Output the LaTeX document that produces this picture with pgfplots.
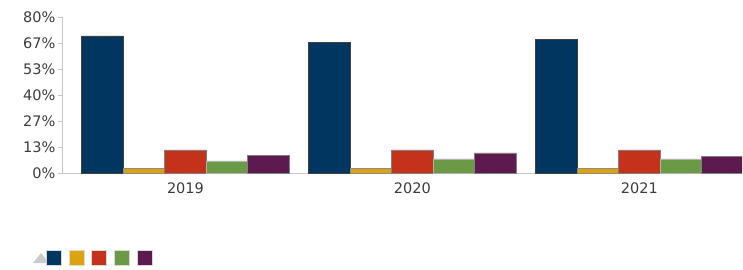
\documentclass[border=0pt]{standalone}
\usepackage{fontspec}
\setmainfont{DejaVu Sans}
\usepackage{pgfplots}
\pgfplotsset{compat=1.18}
\definecolor{cblue}{HTML}{00365F}
\definecolor{cyellow}{HTML}{DDA30F}
\definecolor{cred}{HTML}{C5321C}
\definecolor{cgreen}{HTML}{6A9A45}
\definecolor{cpurple}{HTML}{5C1A4E}
\definecolor{txt}{HTML}{3C3C3C}
\begin{document}
\begin{tikzpicture}
\useasboundingbox (0,0) rectangle (743pt,269pt);
\fill[black!20] (33pt,6pt) -- (41pt,16pt) -- (49pt,6pt) -- cycle;
\begin{axis}[
  at={(62pt,96pt)}, anchor=south west,
  scale only axis, width=680pt, height=156pt,
  xmin=-0.544, xmax=2.452, ymin=0, ymax=80,
  ybar=0pt, bar width=41.5pt,
  axis x line*=bottom, axis y line*=left,
  axis line style={draw=black!22, line width=0.8pt},
  xtick={0,1,2}, xticklabels={2019,2020,2021},
  ytick={0,13.3333,26.6667,40,53.3333,66.6667,80},
  yticklabels={0\%,13\%,27\%,40\%,53\%,67\%,80\%},
  xtick style={draw=none},
  ytick style={draw=black!22, line width=0.8pt},
  tick align=outside, major tick length=4pt,
  ticklabel style={font=\fontsize{14.5}{16}\selectfont, text=txt},
  yticklabel style={xshift=1pt},
  xticklabel style={yshift=-2pt},
  legend columns=-1,
  legend style={at={(-0.0279,-0.545)}, anchor=west, draw=none, fill=none,
    nodes={inner sep=0pt},
    /tikz/every even column/.append style={column sep=6pt}},
  legend image code/.code={\draw[#1, draw=black!15, line width=0.6pt] (0pt,-7.5pt) rectangle (15pt,7.5pt);},
]
\addplot[fill=cblue, draw=black!75, line width=0.7pt] coordinates {(0,70.3) (1,67.1) (2,68.6)};
\addlegendentry{}
\addplot[fill=cyellow, draw=black!45, line width=0.5pt] coordinates {(0,2.3) (1,2.4) (2,2.4)};
\addlegendentry{}
\addplot[fill=cred, draw=black!50, line width=0.5pt] coordinates {(0,11.8) (1,11.8) (2,11.8)};
\addlegendentry{}
\addplot[fill=cgreen, draw=black!30, line width=0.5pt] coordinates {(0,6.2) (1,7.2) (2,7.2)};
\addlegendentry{}
\addplot[fill=cpurple, draw=black!50, line width=0.5pt] coordinates {(0,8.9) (1,10.3) (2,8.7)};
\addlegendentry{}
\end{axis}
\end{tikzpicture}
\end{document}
